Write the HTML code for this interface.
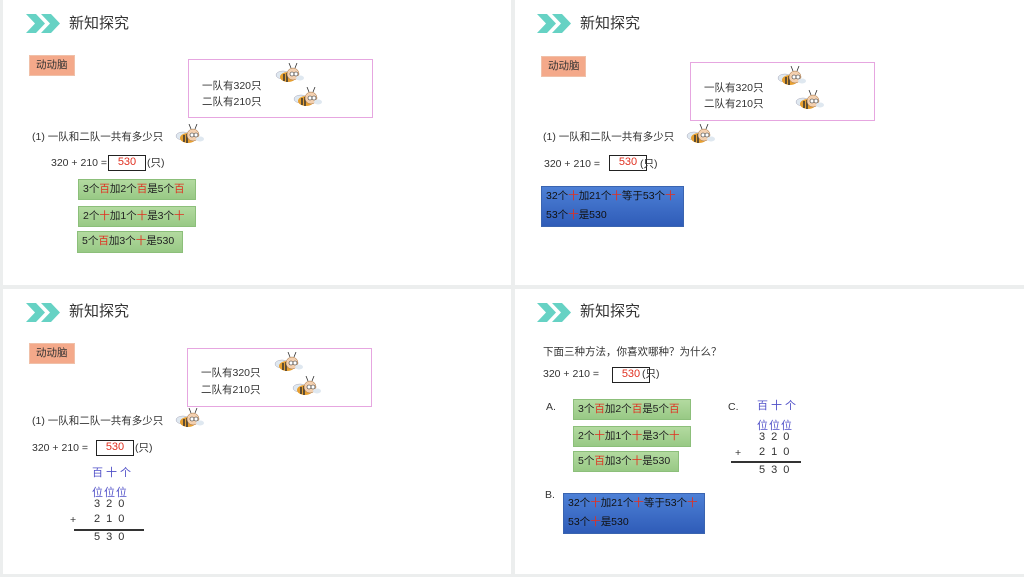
<!DOCTYPE html>
<html><head><meta charset="utf-8">
<style>
*{margin:0;padding:0;box-sizing:border-box}
body{width:1024px;height:577px;position:relative;background:#eceeee;font-family:"Liberation Sans","Noto Sans CJK SC",sans-serif;color:#333;overflow:hidden}
.p{position:absolute;background:#fff}
.t{position:absolute;font-size:10.5px;line-height:14px;white-space:nowrap}
.h{position:absolute;font-size:15px;line-height:18px;color:#333}
.r{color:#e03020}
.k{position:absolute;background:#f4a98a;border:1px solid #f0c0a8;font-size:10.5px;line-height:19px;padding-left:6px;color:#333}
.pk{position:absolute;border:1px solid #e6a6e0}
.g{position:absolute;background:linear-gradient(#b3daa0,#98c985);border:1px solid #8cbf7a;font-size:10.5px;line-height:19px;padding-left:4px;color:#222}
.b{position:absolute;background:linear-gradient(#4d80d6,#2f5cb8);border:1px solid #3a64b0;font-size:10.5px;line-height:19px;padding-left:4px;color:#111}
.bx{position:absolute;border:1.5px solid #222;font-size:11px;line-height:13px;color:#e03020;text-align:center}
.v{position:absolute;font-size:11px;line-height:13px;color:#5050c8;letter-spacing:2px}
.n{position:absolute;font-size:11px;line-height:13px;letter-spacing:6px;color:#333}
.ln{position:absolute;height:1.5px;background:#333}
</style></head><body>
<div class="p" style="left:3px;top:0;width:508px;height:285px"></div>
<div class="p" style="left:515px;top:0;width:509px;height:285px"></div>
<div class="p" style="left:3px;top:289px;width:508px;height:285px"></div>
<div class="p" style="left:515px;top:289px;width:509px;height:285px"></div>

<svg width="0" height="0" style="position:absolute">
<defs>
<g id="chev"><polygon points="0,0 10,0 19,9.5 10,19 0,19 9,9.5" fill="#66d2c4"/><polygon points="15,0 25,0 34,9.5 25,19 15,19 24,9.5" fill="#66d2c4"/></g>
<g id="bee"><ellipse cx="10" cy="12" rx="7" ry="4" fill="#dfe8f0" stroke="#aab" stroke-width=".5"/><ellipse cx="15" cy="14" rx="8" ry="5" fill="#e8a030"/><path d="M11 11 v7 M14 10 v9" stroke="#333" stroke-width="1.5"/><circle cx="20" cy="11" r="6" fill="#f3d0b0" stroke="#a07040" stroke-width=".5"/><circle cx="19" cy="11" r="2" fill="#fff" stroke="#333" stroke-width=".6"/><circle cx="23" cy="11" r="2" fill="#fff" stroke="#333" stroke-width=".6"/><path d="M18 5 l-2 -5 M22 5 l2 -5" stroke="#333" stroke-width=".8"/><ellipse cx="27" cy="15" rx="4" ry="2.5" fill="#dfe8f0"/></g>
</defs></svg>

<!-- Panel 1 -->
<svg style="position:absolute;left:26px;top:14px" width="36" height="20"><use href="#chev"/></svg>
<div class="h" style="left:69px;top:15px">新知探究</div>
<div class="k" style="left:29px;top:55px;width:46px;height:21px">动动脑</div>
<div class="pk" style="left:188px;top:59px;width:185px;height:59px"></div>
<div class="t" style="left:202px;top:79px">一队有320只</div>
<div class="t" style="left:202px;top:95px">二队有210只</div>
<svg style="position:absolute;left:273px;top:63px" width="32" height="24"><use href="#bee"/></svg>
<svg style="position:absolute;left:291px;top:87px" width="32" height="24"><use href="#bee"/></svg>
<div class="t" style="left:32px;top:130px">(1) 一队和二队一共有多少只</div>
<svg style="position:absolute;left:173px;top:124px" width="36" height="26"><use href="#bee"/></svg>
<div class="t" style="left:51px;top:156px">320 + 210 =</div>
<div class="bx" style="left:108px;top:155px;width:38px;height:16px">530</div>
<div class="t" style="left:147px;top:156px">(只)</div>
<div class="g" style="left:78px;top:179px;width:118px;height:21px">3个<span class="r">百</span>加2个<span class="r">百</span>是5个<span class="r">百</span></div>
<div class="g" style="left:78px;top:206px;width:118px;height:21px">2个<span class="r">十</span>加1个<span class="r">十</span>是3个<span class="r">十</span></div>
<div class="g" style="left:77px;top:231px;width:106px;height:22px">5个<span class="r">百</span>加3个<span class="r">十</span>是530</div>

<!-- Panel 2 -->
<svg style="position:absolute;left:537px;top:14px" width="36" height="20"><use href="#chev"/></svg>
<div class="h" style="left:580px;top:15px">新知探究</div>
<div class="k" style="left:541px;top:56px;width:45px;height:21px">动动脑</div>
<div class="pk" style="left:690px;top:62px;width:185px;height:59px"></div>
<div class="t" style="left:704px;top:81px">一队有320只</div>
<div class="t" style="left:704px;top:97px">二队有210只</div>
<svg style="position:absolute;left:775px;top:66px" width="32" height="24"><use href="#bee"/></svg>
<svg style="position:absolute;left:793px;top:90px" width="32" height="24"><use href="#bee"/></svg>
<div class="t" style="left:543px;top:130px">(1) 一队和二队一共有多少只</div>
<svg style="position:absolute;left:684px;top:124px" width="36" height="26"><use href="#bee"/></svg>
<div class="t" style="left:544px;top:157px">320 + 210 =</div>
<div class="bx" style="left:609px;top:155px;width:38px;height:16px">530</div>
<div class="t" style="left:640px;top:157px">(只)</div>
<div class="b" style="left:541px;top:186px;width:143px;height:41px">32个<span class="r">十</span>加21个<span class="r">十</span>等于53个<span class="r">十</span><br>53个<span class="r">十</span>是530</div>

<!-- Panel 3 -->
<svg style="position:absolute;left:26px;top:303px" width="36" height="20"><use href="#chev"/></svg>
<div class="h" style="left:69px;top:303px">新知探究</div>
<div class="k" style="left:29px;top:343px;width:46px;height:21px">动动脑</div>
<div class="pk" style="left:187px;top:348px;width:185px;height:59px"></div>
<div class="t" style="left:201px;top:366px">一队有320只</div>
<div class="t" style="left:201px;top:383px">二队有210只</div>
<svg style="position:absolute;left:272px;top:352px" width="32" height="24"><use href="#bee"/></svg>
<svg style="position:absolute;left:290px;top:376px" width="32" height="24"><use href="#bee"/></svg>
<div class="t" style="left:32px;top:414px">(1) 一队和二队一共有多少只</div>
<svg style="position:absolute;left:173px;top:408px" width="36" height="26"><use href="#bee"/></svg>
<div class="t" style="left:32px;top:441px">320 + 210 =</div>
<div class="bx" style="left:96px;top:440px;width:38px;height:16px">530</div>
<div class="t" style="left:135px;top:441px">(只)</div>
<div class="v" style="left:92px;top:467px;letter-spacing:3px">百十个</div>
<div class="v" style="left:92px;top:487px;letter-spacing:1px">位位位</div>
<div class="n" style="left:94px;top:498px">320</div>
<div class="t" style="left:70px;top:513px">+</div>
<div class="n" style="left:94px;top:513px">210</div>
<div class="ln" style="left:74px;top:529px;width:70px"></div>
<div class="n" style="left:94px;top:531px">530</div>

<!-- Panel 4 -->
<svg style="position:absolute;left:537px;top:303px" width="36" height="20"><use href="#chev"/></svg>
<div class="h" style="left:580px;top:303px">新知探究</div>
<div class="t" style="left:543px;top:345px">下面三种方法，你喜欢哪种？为什么？</div>
<div class="t" style="left:543px;top:367px">320 + 210 =</div>
<div class="bx" style="left:612px;top:367px;width:38px;height:16px">530</div>
<div class="t" style="left:642px;top:367px">(只)</div>
<div class="t" style="left:546px;top:400px">A.</div>
<div class="g" style="left:573px;top:399px;width:118px;height:21px">3个<span class="r">百</span>加2个<span class="r">百</span>是5个<span class="r">百</span></div>
<div class="g" style="left:573px;top:426px;width:118px;height:21px">2个<span class="r">十</span>加1个<span class="r">十</span>是3个<span class="r">十</span></div>
<div class="g" style="left:573px;top:451px;width:106px;height:21px">5个<span class="r">百</span>加3个<span class="r">十</span>是530</div>
<div class="t" style="left:728px;top:400px">C.</div>
<div class="v" style="left:757px;top:400px;letter-spacing:3px">百十个</div>
<div class="v" style="left:757px;top:420px;letter-spacing:1px">位位位</div>
<div class="n" style="left:759px;top:431px">320</div>
<div class="t" style="left:735px;top:446px">+</div>
<div class="n" style="left:759px;top:446px">210</div>
<div class="ln" style="left:731px;top:461px;width:70px"></div>
<div class="n" style="left:759px;top:464px">530</div>
<div class="t" style="left:545px;top:488px">B.</div>
<div class="b" style="left:563px;top:493px;width:142px;height:41px">32个<span class="r">十</span>加21个<span class="r">十</span>等于53个<span class="r">十</span><br>53个<span class="r">十</span>是530</div>
</body></html>
